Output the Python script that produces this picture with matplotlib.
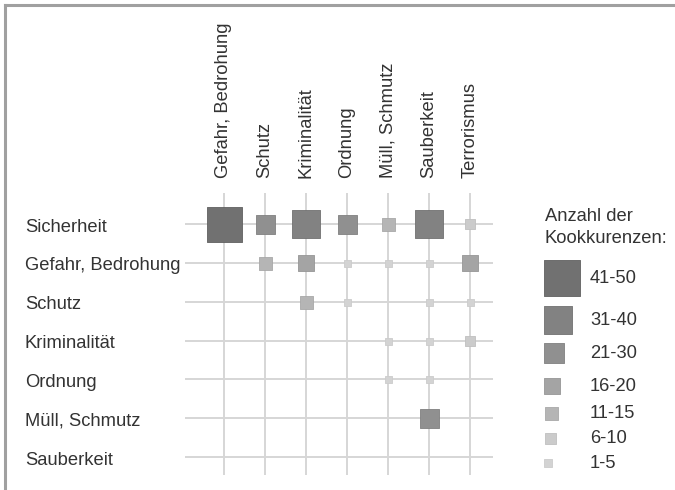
import matplotlib
matplotlib.use("Agg")
import matplotlib.pyplot as plt
from matplotlib.transforms import blended_transform_factory, offset_copy
from matplotlib.lines import Line2D

plt.rcParams['font.family'] = ['Liberation Sans', 'DejaVu Sans']

# ---- data ----
row_labels = ["Sicherheit", "Gefahr, Bedrohung", "Schutz", "Kriminalität",
              "Ordnung", "Müll, Schmutz", "Sauberkeit"]
col_labels = ["Gefahr, Bedrohung", "Schutz", "Kriminalität", "Ordnung",
              "Müll, Schmutz", "Sauberkeit", "Terrorismus"]
classes = ["41-50", "31-40", "21-30", "16-20", "11-15", "6-10", "1-5"]
# co-occurrence class per (row, column); None = no co-occurrence
matrix = [
    ["41-50", "21-30", "31-40", "21-30", "11-15", "31-40", "6-10"],
    [None,    "11-15", "16-20", "1-5",   "1-5",   "1-5",   "16-20"],
    [None,    None,    "11-15", "1-5",   None,    "1-5",   "1-5"],
    [None,    None,    None,    None,    "1-5",   "1-5",   "6-10"],
    [None,    None,    None,    None,    "1-5",   "1-5",   None],
    [None,    None,    None,    None,    None,    "21-30", None],
    [None,    None,    None,    None,    None,    None,    None],
]

# ---- styles ----
side_px = {"41-50": 35, "31-40": 27, "21-30": 19, "16-20": 16,
           "11-15": 13, "6-10": 10, "1-5": 7}
legend_side_px = {"41-50": 36, "31-40": 27, "21-30": 20, "16-20": 16,
                  "11-15": 13, "6-10": 11, "1-5": 8}
colors = {"41-50": "#717171", "31-40": "#828282", "21-30": "#909090",
          "16-20": "#a4a4a4", "11-15": "#b5b5b5", "6-10": "#cbcbcb",
          "1-5": "#d3d3d3"}
edges = {"41-50": "#606060", "31-40": "#707070", "21-30": "#808080",
         "16-20": "#969696", "11-15": "#a8a8a8", "6-10": "#c0c0c0",
         "1-5": "#cccccc"}
txt_col = "#333333"
grid_col = "#d6d6d6"
fs = 13.2

W, H = 675, 490
DPI = 100
fig = plt.figure(figsize=(W / DPI, H / DPI), dpi=DPI)
fig.patch.set_facecolor("white")

def px2pt(p):
    return p * 72.0 / DPI

# main grid axes
left_px, right_px, top_px, bot_px = 185, 493, 193, 475
ax = fig.add_axes([left_px / W, 1 - bot_px / H, (right_px - left_px) / W,
                   (bot_px - top_px) / H])
ax.set_xlim(-0.95, 6.56)
ax.set_ylim(6.46, -0.80)
ax.axis("off")

nr, nc = len(row_labels), len(col_labels)
ax.hlines(range(nr), -0.95, 6.56, color=grid_col, lw=1.4, zorder=1)
ax.vlines(range(nc), -0.80, 6.46, color=grid_col, lw=1.4, zorder=1)

for i, row in enumerate(matrix):
    for j, c in enumerate(row):
        if c is None:
            continue
        ax.scatter([j], [i], marker="s", s=px2pt(side_px[c]) ** 2,
                   color=colors[c], edgecolors=edges[c], linewidths=0.6,
                   zorder=3)

tr_rows = offset_copy(blended_transform_factory(fig.transFigure, ax.transData),
                      fig=fig, x=0, y=-3, units="dots")
for i, lab in enumerate(row_labels):
    ax.text(25 / W, i, lab, transform=tr_rows, ha="left", va="center",
            fontsize=fs, color=txt_col)

tr_cols = blended_transform_factory(ax.transData, fig.transFigure)
for j, lab in enumerate(col_labels):
    ax.text(j, 1 - 178 / H, lab, transform=tr_cols, ha="center",
            va="bottom", rotation=90, fontsize=fs, color=txt_col)

# legend axes (pixel units)
lax = fig.add_axes([0, 0, 1, 1])
lax.set_xlim(0, W)
lax.set_ylim(H, 0)
lax.axis("off")
lax.text(545, 216, "Anzahl der", ha="left", va="center", fontsize=fs,
         color=txt_col)
lax.text(545, 238, "Kookkurenzen:", ha="left", va="center", fontsize=fs,
         color=txt_col)
legend_y = [278, 320, 353, 386, 413, 438, 463]
for c, y in zip(classes, legend_y):
    s = legend_side_px[c]
    lax.scatter([544 + s / 2], [y], marker="s", s=px2pt(s) ** 2,
                color=colors[c], edgecolors=edges[c], linewidths=0.6)
    lax.text(590, y, c, ha="left", va="center", fontsize=fs, color=txt_col)

# frame lines (top and left)
fig.add_artist(Line2D([5 / W, 1], [1 - 5 / H, 1 - 5 / H], color="#a0a0a0",
                      lw=2.2, transform=fig.transFigure))
fig.add_artist(Line2D([5 / W, 5 / W], [1 - 5 / H, 0], color="#a0a0a0",
                      lw=2.2, transform=fig.transFigure))

fig.savefig("out.png", dpi=DPI, facecolor="white")
